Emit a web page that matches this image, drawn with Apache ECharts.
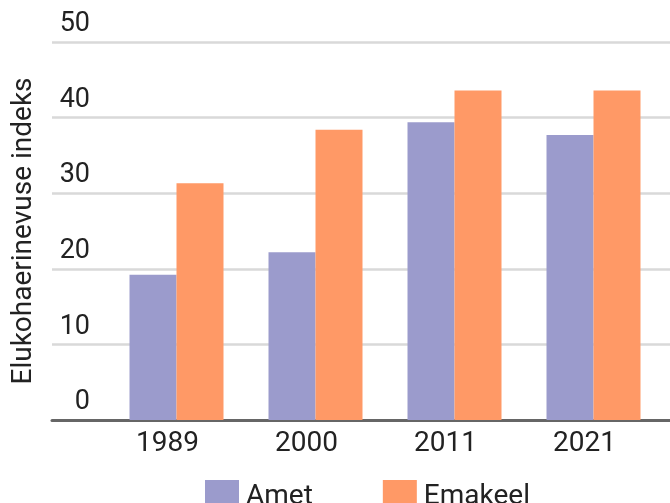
<!DOCTYPE html>
<html>
<head>
<meta charset="utf-8">
<script src="https://cdn.jsdelivr.net/npm/echarts@6/dist/echarts.min.js"></script>
<style>
  html, body { margin: 0; padding: 0; background: #fff; }
  #chart { width: 670px; height: 503px; }
</style>
</head>
<body>
<div id="chart"></div>
<script>
// data
const years = ["1989", "2000", "2011", "2021"];
const amet = [19.2, 22.2, 39.4, 37.7];
const emakeel = [31.3, 38.4, 43.6, 43.6];
const yTicks = [0, 10, 20, 30, 40, 50];

const chart = echarts.init(document.getElementById("chart"));
const font = "Roboto";

chart.setOption({
  animation: false,
  textStyle: { fontFamily: font },
  legend: {
    data: ["Amet", "Emakeel"],
    left: 200,
    top: 475,
    itemWidth: 34,
    itemHeight: 34,
    itemGap: 70,
    icon: "rect",
    textStyle: { fontSize: 28, color: "#222", fontFamily: font, padding: [8, 0, 0, 2] },
  },
  grid: [
    // gridlines + baseline across the whole width
    { left: 52, right: 0, top: 42, bottom: 83 },
    // bars
    { left: 107, width: 556, top: 42, bottom: 83 },
  ],
  xAxis: [
    {
      gridIndex: 0,
      type: "value",
      min: 0,
      max: 1,
      axisLine: { show: true, lineStyle: { color: "#666", width: 3 } },
      axisTick: { show: false },
      axisLabel: { show: false },
      splitLine: { show: false },
    },
    {
      gridIndex: 1,
      type: "category",
      data: years,
      axisLine: { show: false },
      axisTick: { show: false },
      axisLabel: {
        fontSize: 28,
        color: "#222",
        margin: 10,
        padding: [0, 18, 0, 0],
        fontFamily: font,
      },
    },
  ],
  yAxis: [
    {
      gridIndex: 0,
      type: "value",
      min: yTicks[0],
      max: yTicks[yTicks.length - 1],
      interval: 10,
      name: "Elukohaerinevuse indeks",
      nameLocation: "middle",
      nameGap: 14,
      nameTextStyle: { fontSize: 28, color: "#222", fontFamily: font },
      axisLine: { show: false },
      axisTick: { show: false },
      axisLabel: {
        inside: true,
        align: "right",
        verticalAlign: "bottom",
        margin: 38,
        padding: [0, 0, 4, 0],
        fontSize: 27,
        color: "#222",
        fontFamily: font,
      },
      splitLine: { lineStyle: { color: "#d9d9d9", width: 2.5 } },
    },
    {
      gridIndex: 1,
      type: "value",
      min: yTicks[0],
      max: yTicks[yTicks.length - 1],
      interval: 10,
      show: false,
      splitLine: { show: false },
    },
  ],
  series: [
    {
      name: "Amet",
      type: "bar",
      xAxisIndex: 1,
      yAxisIndex: 1,
      data: amet,
      barWidth: 47,
      barGap: "0%",
      itemStyle: { color: "#9b9bcc" },
    },
    {
      name: "Emakeel",
      type: "bar",
      xAxisIndex: 1,
      yAxisIndex: 1,
      data: emakeel,
      barWidth: 47,
      barGap: "0%",
      itemStyle: { color: "#ff9966" },
    },
  ],
});
</script>
</body>
</html>
